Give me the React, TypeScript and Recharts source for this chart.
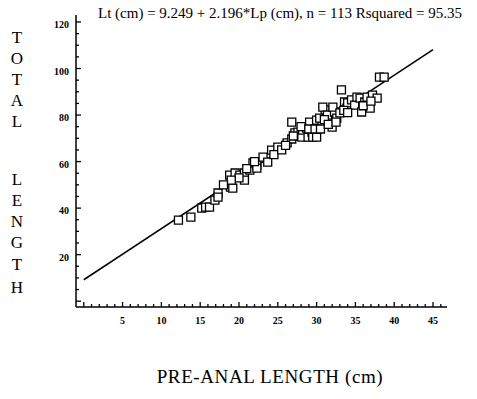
import React from 'react';
import { ScatterChart, Scatter, XAxis, YAxis, ZAxis } from 'recharts';

// pre-anal length (cm) of each fish
const preAnal = [
  12.2, 13.8, 15.2, 15.7, 16.2, 16.9, 17.3, 17.3, 18.9, 19.2, 18.8, 19.5, 20.1, 20.7, 20.7,
  21.4, 21.8, 22.3, 22.3, 23.1, 23.7, 24.2, 25.0, 26.2, 26.8, 26.8, 27.2, 27.6, 28.1, 28.2,
  28.7, 28.9, 29.4, 29.5, 30.0, 29.1, 30.0, 30.7, 30.4, 31.1, 30.8, 31.4, 32.0, 32.3, 32.1,
  32.6, 33.0, 33.2, 33.6, 33.9, 34.0, 34.5, 34.9, 35.2, 35.6, 35.8, 36.2, 36.5, 36.9, 37.2,
  37.8, 38.1, 38.7, 24.5, 25.5, 26.0, 27.0, 28.0, 29.0, 29.8, 30.5, 31.0, 31.5, 32.5, 33.5,
  34.0, 36.0, 37.0, 20.0, 21.0, 22.0, 19.0, 18.0,
];
// total length (cm), same order
const totalLen = [
  34.8, 36.1, 40.0, 40.4, 40.4, 43.4, 46.5, 44.7, 49.0, 48.6, 54.2, 55.1, 54.2, 55.1, 52.0,
  56.3, 59.4, 58.5, 57.2, 61.9, 59.8, 64.9, 66.2, 68.0, 69.7, 77.0, 72.3, 72.7, 70.5, 73.5,
  74.4, 70.5, 72.7, 70.5, 70.5, 77.0, 77.8, 76.6, 78.7, 82.2, 83.4, 80.0, 74.8, 81.3, 83.4,
  78.7, 80.9, 90.8, 85.6, 83.0, 85.2, 86.5, 84.3, 87.7, 87.3, 81.3, 85.6, 87.7, 83.0, 88.6,
  87.3, 96.3, 96.3, 63.0, 65.0, 67.0, 71.0, 75.0, 74.0, 74.0, 74.0, 78.0, 76.0, 77.0, 82.0,
  81.0, 84.0, 86.0, 53.0, 57.0, 60.0, 52.0, 50.0,
];

// fitted line end points
const fitX = [0, 45];
const fitY = [9.2, 108.1];

const xTicks = Array.from({ length: 47 }, (_, i) => i);
const yTicks = Array.from({ length: 25 }, (_, i) => i * 5);

const points = preAnal.map((x, i) => ({ x, y: totalLen[i] }));
const fitLine = fitX.map((x, i) => ({ x, y: fitY[i] }));

const serif = "'Liberation Serif', 'Times New Roman', serif";
// vertical axis title, one letter per row
const yTitle = ['T', 'O', 'T', 'A', 'L', 'L', 'E', 'N', 'G', 'T', 'H'];
const yTitleTop = [29, 50, 71, 92, 113, 171, 192, 213, 234, 256, 279];

const YTick = (props: any) => {
  const { x, y, payload } = props;
  const v = payload.value;
  const major = v % 20 === 0;
  return (
    <g>
      <line x1={x} x2={x + (major ? 5 : 3)} y1={y} y2={y} stroke="#000" strokeWidth={1.3} />
      {major && v > 0 && (
        <text x={x - 7} y={y + 4} textAnchor="end" dominantBaseline="middle"
          fontFamily={serif} fontSize={10} fontWeight="bold" fill="#000">{v}</text>
      )}
    </g>
  );
};

const XTick = (props: any) => {
  const { x, y, payload } = props;
  const v = payload.value;
  const major = v % 5 === 0;
  return (
    <g>
      <line x1={x} x2={x} y1={y} y2={y - (major ? 5 : 3)} stroke="#000" strokeWidth={1.3} />
      {major && v > 0 && (
        <text x={x} y={y + 15} textAnchor="middle" dominantBaseline="middle"
          fontFamily={serif} fontSize={10} fontWeight="bold" fill="#000">{v}</text>
      )}
    </g>
  );
};

export default function App() {
  return (
    <div style={{ position: 'absolute', left: 0, top: 0, width: 477, height: 399, background: '#fff' }}>
      <ScatterChart width={477} height={399} margin={{ top: 15, right: 30, bottom: 0, left: 0 }}>
        <XAxis type="number" dataKey="x" domain={[-1, 46.8]} ticks={xTicks} interval={0}
          height={92} tickSize={0} tickMargin={0} tickLine={false}
          axisLine={{ stroke: '#000', strokeWidth: 1.5 }} tick={<XTick />} />
        <YAxis type="number" dataKey="y" domain={[-2.5, 123]} ticks={yTicks} interval={0}
          width={76} tickSize={0} tickMargin={0} tickLine={false}
          axisLine={{ stroke: '#000', strokeWidth: 1.5 }} tick={<YTick />} />
        <ZAxis range={[60, 60]} />
        <Scatter data={fitLine} line={{ stroke: '#000', strokeWidth: 1.6 }} lineType="joint"
          shape={() => <g />} isAnimationActive={false} />
        <Scatter data={points} shape="square" fill="#fff" stroke="#000" strokeWidth={1.3}
          isAnimationActive={false} />
      </ScatterChart>
      <div style={{ position: 'absolute', left: 98, top: 5, fontFamily: serif, fontSize: 15,
        whiteSpace: 'nowrap', color: '#000' }}>
        Lt (cm) = 9.249 + 2.196*Lp (cm), n = 113 Rsquared = 95.35
      </div>
      {yTitle.map((c, i) => (
        <div key={i} style={{ position: 'absolute', left: 8, top: yTitleTop[i], width: 18,
          textAlign: 'center', fontFamily: serif, fontSize: 17, lineHeight: '18px', color: '#000' }}>
          {c}
        </div>
      ))}
      <div style={{ position: 'absolute', left: 0, width: 540, top: 366, textAlign: 'center',
        fontFamily: serif, fontSize: 19, letterSpacing: 0.6, whiteSpace: 'nowrap', color: '#000' }}>
        PRE-ANAL LENGTH (cm)
      </div>
    </div>
  );
}
